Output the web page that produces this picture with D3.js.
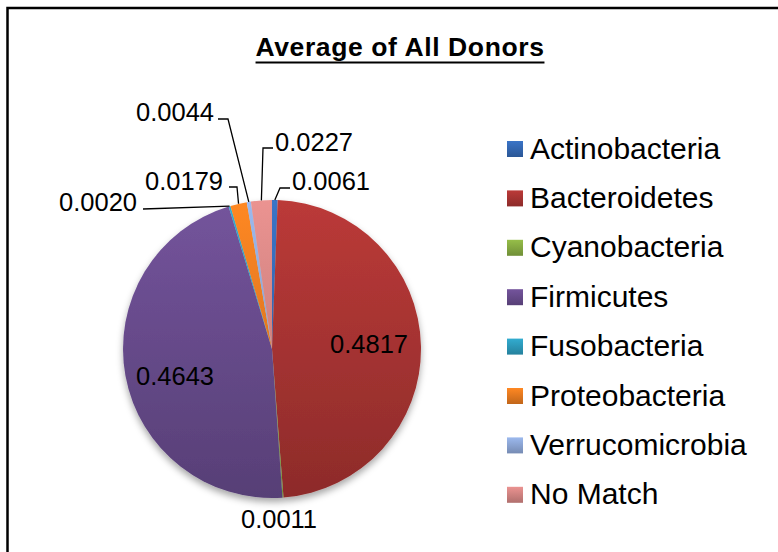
<!DOCTYPE html>
<html>
<head>
<meta charset="utf-8">
<script src="https://cdn.jsdelivr.net/npm/d3@7"></script>
<style>
  body { margin: 0; background: #fff; }
  svg text { font-family: "Liberation Sans", Arial, sans-serif; }
</style>
</head>
<body>
<div id="chart"></div>
<script>
// data
const phyla = ["Actinobacteria", "Bacteroidetes", "Cyanobacteria", "Firmicutes",
               "Fusobacteria", "Proteobacteria", "Verrucomicrobia", "No Match"];
const shares = [0.0061, 0.4817, 0.0011, 0.4643, 0.0020, 0.0179, 0.0044, 0.0227];
const shareLabels = ["0.0061", "0.4817", "0.0011", "0.4643", "0.0020", "0.0179", "0.0044", "0.0227"];
const phylumColors = ["#3366b0", "#a53331", "#84a840", "#664a8a",
                      "#2c98b8", "#e3781f", "#8aa3d2", "#cf8280"];

// svg set up
let svgWidth = 778;
let svgHeight = 552;
let pieCenter = { x: 272, y: 349 };
let radius = 149;

let svg = d3.select("#chart")
    .append("svg")
    .attr("width", svgWidth)
    .attr("height", svgHeight);

let defs = svg.append("defs");

// soft shadow under the pie
let shadow = defs.append("filter")
    .attr("id", "pieShadow")
    .attr("x", "-10%").attr("y", "-10%")
    .attr("width", "120%").attr("height", "125%");
shadow.append("feDropShadow")
    .attr("dx", 0).attr("dy", 4)
    .attr("stdDeviation", 3.5)
    .attr("flood-color", "#000")
    .attr("flood-opacity", 0.35);

// vertical gradients: one across the pie, one for the legend keys
phylumColors.forEach((c, i) => {
    let top = d3.rgb(c).brighter(0.35).formatHex();
    let bottom = d3.rgb(c).darker(0.45).formatHex();
    let g = defs.append("linearGradient")
        .attr("id", "pieGrad" + i)
        .attr("gradientUnits", "userSpaceOnUse")
        .attr("x1", 0).attr("x2", 0)
        .attr("y1", -radius).attr("y2", radius);
    g.append("stop").attr("offset", "0%").attr("stop-color", top);
    g.append("stop").attr("offset", "100%").attr("stop-color", bottom);

    let k = defs.append("linearGradient")
        .attr("id", "keyGrad" + i)
        .attr("x1", 0).attr("x2", 0)
        .attr("y1", 0).attr("y2", 1);
    k.append("stop").attr("offset", "0%").attr("stop-color", top);
    k.append("stop").attr("offset", "100%").attr("stop-color", bottom);
});

// chart frame
svg.append("rect")
    .attr("x", 7.5)
    .attr("y", 8)
    .attr("width", 900)
    .attr("height", 700)
    .attr("fill", "none")
    .attr("stroke", "#000")
    .attr("stroke-width", 2.5);

// title
let title = svg.append("text")
    .attr("x", 400)
    .attr("y", 55.5)
    .attr("text-anchor", "middle")
    .attr("font-size", "26.5px")
    .attr("font-weight", "bold")
    .attr("letter-spacing", "0.6px")
    .text("Average of All Donors");
let tb = title.node().getBBox();
svg.append("line")
    .attr("x1", tb.x)
    .attr("x2", tb.x + tb.width)
    .attr("y1", 62.5)
    .attr("y2", 62.5)
    .attr("stroke", "#000")
    .attr("stroke-width", 2);

// pie
let rows = phyla.map((name, i) => ({ name: name, value: shares[i], label: shareLabels[i], idx: i }));
let pie = d3.pie().sort(null).value(d => d.value);
let arcs = pie(rows);
let arc = d3.arc().innerRadius(0).outerRadius(radius);

let pieGroup = svg.append("g")
    .attr("transform", `translate(${pieCenter.x},${pieCenter.y})`);

pieGroup.append("g")
    .attr("filter", "url(#pieShadow)")
    .selectAll("path")
    .data(arcs)
    .enter()
    .append("path")
    .attr("d", arc)
    .attr("fill", d => `url(#pieGrad${d.data.idx})`);

// label placement (moved by hand in the original), relative to pie centre
// tx/ty = text anchor point, sx/sy -> ex/ey = leader start and elbow
const labelLayout = {
    "Actinobacteria":  { tx: 20,   ty: -159, anchor: "start",  lead: true, sx: 18,  sy: -161, ex: 8,    ey: -161 },
    "Bacteroidetes":   { tx: 97,   ty: 4,    anchor: "middle", lead: false },
    "Cyanobacteria":   { tx: 7,    ty: 179,  anchor: "middle", lead: false },
    "Firmicutes":      { tx: -97,  ty: 36,   anchor: "middle", lead: false },
    "Fusobacteria":    { tx: -135, ty: -138, anchor: "end",    lead: true, sx: -129, sy: -140, ex: -129, ey: -140 },
    "Proteobacteria":  { tx: -49,  ty: -159, anchor: "end",    lead: true, sx: -43, sy: -162, ex: -35,  ey: -162 },
    "Verrucomicrobia": { tx: -58,  ty: -228, anchor: "end",    lead: true, sx: -54, sy: -230, ex: -44,  ey: -230 },
    "No Match":        { tx: 3,    ty: -198, anchor: "start",  lead: true, sx: 1,   sy: -201, ex: -9,   ey: -201 }
};

arcs.forEach(d => {
    let lay = labelLayout[d.data.name];
    if (lay.lead) {
        let mid = (d.startAngle + d.endAngle) / 2;
        let edge = [radius * Math.sin(mid), -radius * Math.cos(mid)];
        pieGroup.append("path")
            .attr("d", d3.line()([[lay.sx, lay.sy], [lay.ex, lay.ey], edge]))
            .attr("fill", "none")
            .attr("stroke", "#000")
            .attr("stroke-width", 1.3);
    }
    pieGroup.append("text")
        .attr("x", lay.tx)
        .attr("y", lay.ty)
        .attr("text-anchor", lay.anchor)
        .attr("font-size", "25.5px")
        .attr("fill", "#000")
        .text(d.data.label);
});

// legend
let legend = svg.append("g")
    .attr("transform", "translate(507,141)");
let legendRows = legend.selectAll("g")
    .data(rows)
    .enter()
    .append("g")
    .attr("transform", (d, i) => `translate(0,${i * 49.4})`);
legendRows.append("rect")
    .attr("width", 16)
    .attr("height", 16)
    .attr("fill", d => `url(#keyGrad${d.idx})`);
legendRows.append("text")
    .attr("x", 23)
    .attr("y", 17.5)
    .attr("font-size", "30px")
    .attr("fill", "#000")
    .text(d => d.name);
</script>
</body>
</html>
